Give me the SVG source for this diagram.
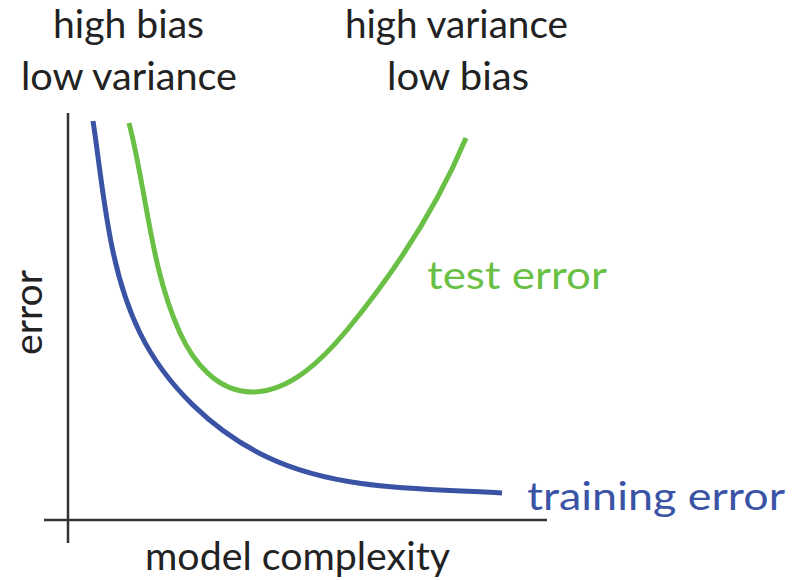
<svg xmlns="http://www.w3.org/2000/svg" width="801" height="580" viewBox="0 0 801 580">
  <style>
    text { font-family: Lato, "Open Sans", "Liberation Sans", sans-serif; font-size: 39px; }
    .dark { fill: #222222; }
    .axis { stroke: #333333; stroke-width: 2.5; fill: none; }
    .curve { fill: none; stroke-width: 5; stroke-linecap: butt; stroke-linejoin: round; }
    .train { stroke: #3a53a4; }
    .test { stroke: #6abf45; }
  </style>
  <rect width="801" height="580" fill="#ffffff"/>

  <!-- axes -->
  <g id="axes">
    <line class="axis" x1="68" y1="113" x2="68" y2="543"/>
    <line class="axis" x1="44" y1="520" x2="547" y2="520"/>
  </g>

  <!-- error curves -->
  <g id="curves">
    <path id="training-curve" class="curve train" d="M93,121 C103.6,191 108.2,268.4 140,333 C166,386 213.8,431.6 267,457 C338.3,491 423.2,488.3 502,493"/>
    <path id="test-curve" class="curve test" d="M129,123 C147,193 150.3,267.4 180,333 C193,361.5 217,392 252,392 C290,392 322.8,359.3 347,330 C395.3,271.4 437,207.2 466,138"/>
  </g>

  <!-- regime labels -->
  <g id="label-left">
    <text class="dark" x="53" y="38" textLength="151" lengthAdjust="spacingAndGlyphs">high bias</text>
    <text class="dark" x="21" y="90" textLength="216" lengthAdjust="spacingAndGlyphs">low variance</text>
  </g>
  <g id="label-right">
    <text class="dark" x="345" y="38" textLength="223" lengthAdjust="spacingAndGlyphs">high variance</text>
    <text class="dark" x="387" y="90" textLength="142" lengthAdjust="spacingAndGlyphs">low bias</text>
  </g>

  <!-- curve labels -->
  <g id="label-test">
    <text x="427" y="289" fill="#6abf45" textLength="180" lengthAdjust="spacingAndGlyphs">test error</text>
  </g>
  <g id="label-train">
    <text x="527" y="510" fill="#3a53a4" textLength="258" lengthAdjust="spacingAndGlyphs">training error</text>
  </g>

  <!-- axis titles -->
  <g id="axis-x-title">
    <text class="dark" x="145" y="570" textLength="305" lengthAdjust="spacingAndGlyphs">model complexity</text>
  </g>
  <g id="axis-y-title">
    <text class="dark" transform="translate(42,355) rotate(-90)" x="0" y="0" textLength="85" lengthAdjust="spacingAndGlyphs">error</text>
  </g>
</svg>
